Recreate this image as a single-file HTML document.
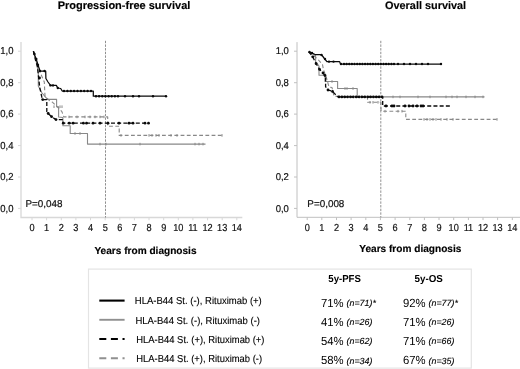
<!DOCTYPE html>
<html><head><meta charset="utf-8"><title>Survival</title>
<style>
html,body{margin:0;padding:0;background:#fff;}
body{width:520px;height:369px;overflow:hidden;}
svg{display:block;filter:blur(0.35px);}
text{font-family:"Liberation Sans",sans-serif;fill:#111;text-rendering:geometricPrecision;}
.t{font-size:10px;stroke:#111;stroke-width:0.2px;}
.b{font-size:10.1px;font-weight:bold;fill:#000;stroke:#000;stroke-width:0.15px;}
.l{font-size:10.1px;fill:#000;stroke:#000;stroke-width:0.12px;}
.p{font-size:11.8px;fill:#000;}
.n{font-size:8.9px;font-style:italic;fill:#000;stroke:#000;stroke-width:0.12px;}
.h{font-size:10.2px;font-weight:bold;fill:#000;}
</style></head>
<body>
<svg width="520" height="369" viewBox="0 0 520 369">
<rect width="520" height="369" fill="#fff"/>
<path d="M21.0,42.1 V217.5 H242.3" fill="none" stroke="#d8d8d8" stroke-width="1.3"/>
<path d="M18.0,51.2 H21.0" stroke="#d8d8d8" stroke-width="1"/>
<text x="0.3" y="54.4" class="t" style="font-size:10.1px" textLength="13.2" lengthAdjust="spacingAndGlyphs">1,0</text>
<path d="M18.0,82.7 H21.0" stroke="#d8d8d8" stroke-width="1"/>
<text x="0.3" y="85.9" class="t" style="font-size:10.1px" textLength="13.2" lengthAdjust="spacingAndGlyphs">0,8</text>
<path d="M18.0,114.1 H21.0" stroke="#d8d8d8" stroke-width="1"/>
<text x="0.3" y="117.3" class="t" style="font-size:10.1px" textLength="13.2" lengthAdjust="spacingAndGlyphs">0,6</text>
<path d="M18.0,145.6 H21.0" stroke="#d8d8d8" stroke-width="1"/>
<text x="0.3" y="148.8" class="t" style="font-size:10.1px" textLength="13.2" lengthAdjust="spacingAndGlyphs">0,4</text>
<path d="M18.0,177.0 H21.0" stroke="#d8d8d8" stroke-width="1"/>
<text x="0.3" y="180.2" class="t" style="font-size:10.1px" textLength="13.2" lengthAdjust="spacingAndGlyphs">0,2</text>
<path d="M18.0,208.4 H21.0" stroke="#d8d8d8" stroke-width="1"/>
<text x="0.3" y="211.6" class="t" style="font-size:10.1px" textLength="13.2" lengthAdjust="spacingAndGlyphs">0,0</text>
<path d="M32.0,217.5 V220.3" stroke="#d8d8d8" stroke-width="1"/>
<text transform="translate(32.0,230.8) scale(0.9,1)" text-anchor="middle" class="t" style="font-size:10.2px">0</text>
<path d="M46.6,217.5 V220.3" stroke="#d8d8d8" stroke-width="1"/>
<text transform="translate(46.6,230.8) scale(0.9,1)" text-anchor="middle" class="t" style="font-size:10.2px">1</text>
<path d="M61.3,217.5 V220.3" stroke="#d8d8d8" stroke-width="1"/>
<text transform="translate(61.3,230.8) scale(0.9,1)" text-anchor="middle" class="t" style="font-size:10.2px">2</text>
<path d="M75.9,217.5 V220.3" stroke="#d8d8d8" stroke-width="1"/>
<text transform="translate(75.9,230.8) scale(0.9,1)" text-anchor="middle" class="t" style="font-size:10.2px">3</text>
<path d="M90.5,217.5 V220.3" stroke="#d8d8d8" stroke-width="1"/>
<text transform="translate(90.5,230.8) scale(0.9,1)" text-anchor="middle" class="t" style="font-size:10.2px">4</text>
<path d="M105.2,217.5 V220.3" stroke="#d8d8d8" stroke-width="1"/>
<text transform="translate(105.2,230.8) scale(0.9,1)" text-anchor="middle" class="t" style="font-size:10.2px">5</text>
<path d="M119.8,217.5 V220.3" stroke="#d8d8d8" stroke-width="1"/>
<text transform="translate(119.8,230.8) scale(0.9,1)" text-anchor="middle" class="t" style="font-size:10.2px">6</text>
<path d="M134.4,217.5 V220.3" stroke="#d8d8d8" stroke-width="1"/>
<text transform="translate(134.4,230.8) scale(0.9,1)" text-anchor="middle" class="t" style="font-size:10.2px">7</text>
<path d="M149.0,217.5 V220.3" stroke="#d8d8d8" stroke-width="1"/>
<text transform="translate(149.0,230.8) scale(0.9,1)" text-anchor="middle" class="t" style="font-size:10.2px">8</text>
<path d="M163.7,217.5 V220.3" stroke="#d8d8d8" stroke-width="1"/>
<text transform="translate(163.7,230.8) scale(0.9,1)" text-anchor="middle" class="t" style="font-size:10.2px">9</text>
<path d="M178.3,217.5 V220.3" stroke="#d8d8d8" stroke-width="1"/>
<text transform="translate(178.3,230.8) scale(0.9,1)" text-anchor="middle" class="t" style="font-size:10.2px">10</text>
<path d="M192.9,217.5 V220.3" stroke="#d8d8d8" stroke-width="1"/>
<text transform="translate(192.9,230.8) scale(0.9,1)" text-anchor="middle" class="t" style="font-size:10.2px">11</text>
<path d="M207.6,217.5 V220.3" stroke="#d8d8d8" stroke-width="1"/>
<text transform="translate(207.6,230.8) scale(0.9,1)" text-anchor="middle" class="t" style="font-size:10.2px">12</text>
<path d="M222.2,217.5 V220.3" stroke="#d8d8d8" stroke-width="1"/>
<text transform="translate(222.2,230.8) scale(0.9,1)" text-anchor="middle" class="t" style="font-size:10.2px">13</text>
<path d="M236.8,217.5 V220.3" stroke="#d8d8d8" stroke-width="1"/>
<text transform="translate(236.8,230.8) scale(0.9,1)" text-anchor="middle" class="t" style="font-size:10.2px">14</text>
<path d="M105.5,40.8 V217.5" stroke="#7c7c7c" stroke-width="0.85" stroke-dasharray="2.4,1.25"/>
<path d="M33.4,51.2 L36.0,60.0 L38.3,72.0 L38.3,86.0 L42.0,93.0 L47.5,99.4 L56.6,99.4 L56.6,106.7 L58.6,106.7 L58.6,117.0 L62.9,117.5 L62.9,125.7 L70.2,125.7 L70.2,133.5 L87.5,133.5 L87.5,144.1 L205.5,144.1" fill="none" stroke="#888888" stroke-width="1.1" stroke-linejoin="round"/><path d="M54.0,105.4 v2.6" stroke="#888888" stroke-width="1"/><path d="M60.0,105.4 v2.6" stroke="#888888" stroke-width="1"/><path d="M62.0,105.4 v2.6" stroke="#888888" stroke-width="1"/><path d="M75.0,132.2 v2.6" stroke="#888888" stroke-width="1"/><path d="M80.0,132.2 v2.6" stroke="#888888" stroke-width="1"/><path d="M100.0,142.8 v2.6" stroke="#888888" stroke-width="1"/><path d="M106.0,142.8 v2.6" stroke="#888888" stroke-width="1"/><path d="M140.0,142.8 v2.6" stroke="#888888" stroke-width="1"/><path d="M195.0,142.8 v2.6" stroke="#888888" stroke-width="1"/><path d="M199.0,142.8 v2.6" stroke="#888888" stroke-width="1"/><path d="M203.0,142.8 v2.6" stroke="#888888" stroke-width="1"/>
<path d="M33.4,51.2 L37.0,62.0 L40.0,72.0 L44.3,82.0 L45.0,96.0 L49.7,100.8 L52.6,102.3 L57.0,106.5 L61.9,111.6 L63.8,116.9 L107.7,116.9 L107.7,126.3 L119.2,126.3 L119.2,135.4 L223.5,135.4" fill="none" stroke="#888888" stroke-width="1.1" stroke-linejoin="round" stroke-dasharray="3.8,2.4"/><path d="M69.0,115.6 v2.6" stroke="#888888" stroke-width="1"/><path d="M77.0,115.6 v2.6" stroke="#888888" stroke-width="1"/><path d="M85.0,115.6 v2.6" stroke="#888888" stroke-width="1"/><path d="M90.0,115.6 v2.6" stroke="#888888" stroke-width="1"/><path d="M95.0,115.6 v2.6" stroke="#888888" stroke-width="1"/><path d="M100.0,115.6 v2.6" stroke="#888888" stroke-width="1"/><path d="M104.0,115.6 v2.6" stroke="#888888" stroke-width="1"/><path d="M121.0,134.1 v2.6" stroke="#888888" stroke-width="1"/><path d="M149.0,134.1 v2.6" stroke="#888888" stroke-width="1"/><path d="M152.0,134.1 v2.6" stroke="#888888" stroke-width="1"/><path d="M156.0,134.1 v2.6" stroke="#888888" stroke-width="1"/><path d="M159.0,134.1 v2.6" stroke="#888888" stroke-width="1"/><path d="M171.0,134.1 v2.6" stroke="#888888" stroke-width="1"/><path d="M177.0,134.1 v2.6" stroke="#888888" stroke-width="1"/><path d="M222.0,134.1 v2.6" stroke="#888888" stroke-width="1"/>
<path d="M33.4,51.2 L35.5,60.0 L37.3,66.0 L38.3,74.6 L39.7,87.3 L41.7,96.5 L42.7,99.6 L46.8,99.6 L46.8,111.6 L48.2,113.5 L51.6,116.7 L56.0,119.6 L62.9,119.6 L62.9,123.2 L148.8,123.2" fill="none" stroke="#0a0a0a" stroke-width="1.3" stroke-linejoin="round" stroke-dasharray="4,2.2"/><circle cx="39.5" cy="78.0" r="1.4" fill="#0a0a0a"/><circle cx="42.7" cy="99.6" r="1.4" fill="#0a0a0a"/><circle cx="48.2" cy="113.5" r="1.4" fill="#0a0a0a"/><circle cx="51.6" cy="116.7" r="1.4" fill="#0a0a0a"/><circle cx="56.0" cy="119.6" r="1.4" fill="#0a0a0a"/><circle cx="63.3" cy="123.2" r="1.4" fill="#0a0a0a"/><circle cx="69.2" cy="123.2" r="1.4" fill="#0a0a0a"/><circle cx="73.1" cy="123.2" r="1.4" fill="#0a0a0a"/><circle cx="83.4" cy="123.2" r="1.4" fill="#0a0a0a"/><circle cx="86.5" cy="123.2" r="1.4" fill="#0a0a0a"/><circle cx="93.0" cy="123.2" r="1.4" fill="#0a0a0a"/><circle cx="100.0" cy="123.2" r="1.4" fill="#0a0a0a"/><circle cx="108.0" cy="123.2" r="1.4" fill="#0a0a0a"/><circle cx="119.0" cy="123.2" r="1.4" fill="#0a0a0a"/><circle cx="129.0" cy="123.2" r="1.4" fill="#0a0a0a"/><circle cx="133.0" cy="123.2" r="1.4" fill="#0a0a0a"/><circle cx="145.0" cy="123.2" r="1.4" fill="#0a0a0a"/><circle cx="148.5" cy="123.2" r="1.4" fill="#0a0a0a"/>
<path d="M33.4,51.2 L35.0,56.0 L36.5,60.0 L38.0,65.0 L40.0,71.0 L45.7,71.0 L45.9,78.5 L48.0,82.0 L50.5,85.4 L56.3,85.4 L57.8,88.0 L60.7,88.5 L62.2,91.0 L93.3,91.0 L93.3,96.2 L166.0,96.2" fill="none" stroke="#0a0a0a" stroke-width="1.25" stroke-linejoin="round"/><circle cx="34.5" cy="54.0" r="1.2" fill="#0a0a0a"/><circle cx="36.3" cy="59.0" r="1.2" fill="#0a0a0a"/><circle cx="38.0" cy="65.0" r="1.2" fill="#0a0a0a"/><circle cx="40.0" cy="71.0" r="1.2" fill="#0a0a0a"/><circle cx="44.5" cy="71.0" r="1.2" fill="#0a0a0a"/><circle cx="50.5" cy="85.4" r="1.2" fill="#0a0a0a"/><circle cx="53.0" cy="85.4" r="1.2" fill="#0a0a0a"/><circle cx="57.8" cy="88.0" r="1.2" fill="#0a0a0a"/><circle cx="64.0" cy="91.0" r="1.2" fill="#0a0a0a"/><circle cx="67.4" cy="91.0" r="1.2" fill="#0a0a0a"/><circle cx="70.8" cy="91.0" r="1.2" fill="#0a0a0a"/><circle cx="74.1" cy="91.0" r="1.2" fill="#0a0a0a"/><circle cx="77.5" cy="91.0" r="1.2" fill="#0a0a0a"/><circle cx="80.9" cy="91.0" r="1.2" fill="#0a0a0a"/><circle cx="84.2" cy="91.0" r="1.2" fill="#0a0a0a"/><circle cx="87.6" cy="91.0" r="1.2" fill="#0a0a0a"/><circle cx="91.0" cy="91.0" r="1.2" fill="#0a0a0a"/><circle cx="96.0" cy="96.2" r="1.2" fill="#0a0a0a"/><circle cx="99.1" cy="96.2" r="1.2" fill="#0a0a0a"/><circle cx="102.3" cy="96.2" r="1.2" fill="#0a0a0a"/><circle cx="105.4" cy="96.2" r="1.2" fill="#0a0a0a"/><circle cx="108.6" cy="96.2" r="1.2" fill="#0a0a0a"/><circle cx="111.7" cy="96.2" r="1.2" fill="#0a0a0a"/><circle cx="114.9" cy="96.2" r="1.2" fill="#0a0a0a"/><circle cx="118.0" cy="96.2" r="1.2" fill="#0a0a0a"/><circle cx="125.0" cy="96.2" r="1.2" fill="#0a0a0a"/><circle cx="133.0" cy="96.2" r="1.2" fill="#0a0a0a"/><circle cx="139.0" cy="96.2" r="1.2" fill="#0a0a0a"/><circle cx="153.0" cy="96.2" r="1.2" fill="#0a0a0a"/><circle cx="166.0" cy="96.2" r="1.2" fill="#0a0a0a"/>
<text x="25.5" y="207.3" class="t" style="font-size:9.9px">P=0,048</text>
<text x="124" y="8.8" text-anchor="middle" class="b" style="font-size:11px">Progression-free survival</text>
<text x="145.5" y="254.0" text-anchor="middle" class="b">Years from diagnosis</text>
<path d="M297.0,42.1 V217.3 H520.3" fill="none" stroke="#c0c0c0" stroke-width="1.0"/>
<path d="M294.0,51.2 H297.0" stroke="#c0c0c0" stroke-width="1"/>
<text x="275.7" y="54.4" class="t" style="font-size:9.9px" textLength="13.2" lengthAdjust="spacingAndGlyphs">1,0</text>
<path d="M294.0,82.7 H297.0" stroke="#c0c0c0" stroke-width="1"/>
<text x="275.7" y="85.9" class="t" style="font-size:9.9px" textLength="13.2" lengthAdjust="spacingAndGlyphs">0,8</text>
<path d="M294.0,114.1 H297.0" stroke="#c0c0c0" stroke-width="1"/>
<text x="275.7" y="117.3" class="t" style="font-size:9.9px" textLength="13.2" lengthAdjust="spacingAndGlyphs">0,6</text>
<path d="M294.0,145.6 H297.0" stroke="#c0c0c0" stroke-width="1"/>
<text x="275.7" y="148.8" class="t" style="font-size:9.9px" textLength="13.2" lengthAdjust="spacingAndGlyphs">0,4</text>
<path d="M294.0,177.0 H297.0" stroke="#c0c0c0" stroke-width="1"/>
<text x="275.7" y="180.2" class="t" style="font-size:9.9px" textLength="13.2" lengthAdjust="spacingAndGlyphs">0,2</text>
<path d="M294.0,208.4 H297.0" stroke="#c0c0c0" stroke-width="1"/>
<text x="275.7" y="211.6" class="t" style="font-size:9.9px" textLength="13.2" lengthAdjust="spacingAndGlyphs">0,0</text>
<path d="M307.2,217.3 V220.10000000000002" stroke="#c0c0c0" stroke-width="1"/>
<text transform="translate(307.2,230.6) scale(0.9,1)" text-anchor="middle" class="t" style="font-size:10.2px">0</text>
<path d="M321.8,217.3 V220.10000000000002" stroke="#c0c0c0" stroke-width="1"/>
<text transform="translate(321.8,230.6) scale(0.9,1)" text-anchor="middle" class="t" style="font-size:10.2px">1</text>
<path d="M336.5,217.3 V220.10000000000002" stroke="#c0c0c0" stroke-width="1"/>
<text transform="translate(336.5,230.6) scale(0.9,1)" text-anchor="middle" class="t" style="font-size:10.2px">2</text>
<path d="M351.1,217.3 V220.10000000000002" stroke="#c0c0c0" stroke-width="1"/>
<text transform="translate(351.1,230.6) scale(0.9,1)" text-anchor="middle" class="t" style="font-size:10.2px">3</text>
<path d="M365.8,217.3 V220.10000000000002" stroke="#c0c0c0" stroke-width="1"/>
<text transform="translate(365.8,230.6) scale(0.9,1)" text-anchor="middle" class="t" style="font-size:10.2px">4</text>
<path d="M380.4,217.3 V220.10000000000002" stroke="#c0c0c0" stroke-width="1"/>
<text transform="translate(380.4,230.6) scale(0.9,1)" text-anchor="middle" class="t" style="font-size:10.2px">5</text>
<path d="M395.1,217.3 V220.10000000000002" stroke="#c0c0c0" stroke-width="1"/>
<text transform="translate(395.1,230.6) scale(0.9,1)" text-anchor="middle" class="t" style="font-size:10.2px">6</text>
<path d="M409.8,217.3 V220.10000000000002" stroke="#c0c0c0" stroke-width="1"/>
<text transform="translate(409.8,230.6) scale(0.9,1)" text-anchor="middle" class="t" style="font-size:10.2px">7</text>
<path d="M424.4,217.3 V220.10000000000002" stroke="#c0c0c0" stroke-width="1"/>
<text transform="translate(424.4,230.6) scale(0.9,1)" text-anchor="middle" class="t" style="font-size:10.2px">8</text>
<path d="M439.0,217.3 V220.10000000000002" stroke="#c0c0c0" stroke-width="1"/>
<text transform="translate(439.0,230.6) scale(0.9,1)" text-anchor="middle" class="t" style="font-size:10.2px">9</text>
<path d="M453.7,217.3 V220.10000000000002" stroke="#c0c0c0" stroke-width="1"/>
<text transform="translate(453.7,230.6) scale(0.9,1)" text-anchor="middle" class="t" style="font-size:10.2px">10</text>
<path d="M468.4,217.3 V220.10000000000002" stroke="#c0c0c0" stroke-width="1"/>
<text transform="translate(468.4,230.6) scale(0.9,1)" text-anchor="middle" class="t" style="font-size:10.2px">11</text>
<path d="M483.0,217.3 V220.10000000000002" stroke="#c0c0c0" stroke-width="1"/>
<text transform="translate(483.0,230.6) scale(0.9,1)" text-anchor="middle" class="t" style="font-size:10.2px">12</text>
<path d="M497.6,217.3 V220.10000000000002" stroke="#c0c0c0" stroke-width="1"/>
<text transform="translate(497.6,230.6) scale(0.9,1)" text-anchor="middle" class="t" style="font-size:10.2px">13</text>
<path d="M512.3,217.3 V220.10000000000002" stroke="#c0c0c0" stroke-width="1"/>
<text transform="translate(512.3,230.6) scale(0.9,1)" text-anchor="middle" class="t" style="font-size:10.2px">14</text>
<path d="M380.8,40.8 V217.3" stroke="#7c7c7c" stroke-width="0.85" stroke-dasharray="2.4,1.25"/>
<path d="M308.8,51.8 L312.0,53.5 L315.6,55.7 L315.6,61.6 L319.0,66.0 L319.0,75.3 L325.0,75.3 L325.0,81.5 L337.6,81.5 L337.6,88.5 L357.2,88.5 L357.2,96.9 L484.5,96.9" fill="none" stroke="#888888" stroke-width="1.1" stroke-linejoin="round"/><path d="M332.0,80.2 v2.6" stroke="#888888" stroke-width="1"/><path d="M345.0,87.2 v2.6" stroke="#888888" stroke-width="1"/><path d="M347.0,87.2 v2.6" stroke="#888888" stroke-width="1"/><path d="M353.0,87.2 v2.6" stroke="#888888" stroke-width="1"/><path d="M393.0,95.6 v2.6" stroke="#888888" stroke-width="1"/><path d="M400.0,95.6 v2.6" stroke="#888888" stroke-width="1"/><path d="M418.0,95.6 v2.6" stroke="#888888" stroke-width="1"/><path d="M430.0,95.6 v2.6" stroke="#888888" stroke-width="1"/><path d="M446.0,95.6 v2.6" stroke="#888888" stroke-width="1"/><path d="M452.0,95.6 v2.6" stroke="#888888" stroke-width="1"/><path d="M457.0,95.6 v2.6" stroke="#888888" stroke-width="1"/><path d="M466.0,95.6 v2.6" stroke="#888888" stroke-width="1"/><path d="M475.0,95.6 v2.6" stroke="#888888" stroke-width="1"/><path d="M483.0,95.6 v2.6" stroke="#888888" stroke-width="1"/>
<path d="M308.8,51.8 L314.0,56.0 L318.5,60.0 L322.5,64.5 L323.4,69.4 L326.5,78.0 L329.0,87.0 L332.0,87.5 L334.0,96.3 L367.5,96.9 L367.5,102.3 L381.0,102.3 L381.0,111.2 L405.8,111.2 L405.8,119.4 L499.0,119.4" fill="none" stroke="#888888" stroke-width="1.1" stroke-linejoin="round" stroke-dasharray="3.8,2.4"/><path d="M370.0,101.0 v2.6" stroke="#888888" stroke-width="1"/><path d="M373.0,101.0 v2.6" stroke="#888888" stroke-width="1"/><path d="M378.0,101.0 v2.6" stroke="#888888" stroke-width="1"/><path d="M385.0,109.9 v2.6" stroke="#888888" stroke-width="1"/><path d="M398.0,109.9 v2.6" stroke="#888888" stroke-width="1"/><path d="M402.0,109.9 v2.6" stroke="#888888" stroke-width="1"/><path d="M424.0,118.1 v2.6" stroke="#888888" stroke-width="1"/><path d="M427.0,118.1 v2.6" stroke="#888888" stroke-width="1"/><path d="M430.0,118.1 v2.6" stroke="#888888" stroke-width="1"/><path d="M433.0,118.1 v2.6" stroke="#888888" stroke-width="1"/><path d="M436.0,118.1 v2.6" stroke="#888888" stroke-width="1"/><path d="M441.0,118.1 v2.6" stroke="#888888" stroke-width="1"/><path d="M447.0,118.1 v2.6" stroke="#888888" stroke-width="1"/><path d="M453.0,118.1 v2.6" stroke="#888888" stroke-width="1"/><path d="M497.0,118.1 v2.6" stroke="#888888" stroke-width="1"/>
<path d="M308.8,51.8 L312.7,56.8 L316.1,63.7 L319.6,69.4 L323.0,72.9 L325.6,76.8 L325.6,86.6 L328.0,90.0 L332.5,91.4 L335.9,94.9 L338.3,96.9 L382.7,96.9 L382.7,106.0 L450.3,106.0" fill="none" stroke="#0a0a0a" stroke-width="1.3" stroke-linejoin="round" stroke-dasharray="4,2.2"/><circle cx="312.7" cy="56.8" r="1.4" fill="#0a0a0a"/><circle cx="316.1" cy="63.7" r="1.4" fill="#0a0a0a"/><circle cx="319.6" cy="69.4" r="1.4" fill="#0a0a0a"/><circle cx="323.0" cy="72.9" r="1.4" fill="#0a0a0a"/><circle cx="325.0" cy="75.5" r="1.4" fill="#0a0a0a"/><circle cx="328.0" cy="90.0" r="1.4" fill="#0a0a0a"/><circle cx="332.5" cy="91.4" r="1.4" fill="#0a0a0a"/><circle cx="339.0" cy="96.9" r="1.4" fill="#0a0a0a"/><circle cx="341.9" cy="96.9" r="1.4" fill="#0a0a0a"/><circle cx="344.7" cy="96.9" r="1.4" fill="#0a0a0a"/><circle cx="347.6" cy="96.9" r="1.4" fill="#0a0a0a"/><circle cx="350.5" cy="96.9" r="1.4" fill="#0a0a0a"/><circle cx="353.3" cy="96.9" r="1.4" fill="#0a0a0a"/><circle cx="356.2" cy="96.9" r="1.4" fill="#0a0a0a"/><circle cx="359.1" cy="96.9" r="1.4" fill="#0a0a0a"/><circle cx="361.9" cy="96.9" r="1.4" fill="#0a0a0a"/><circle cx="364.8" cy="96.9" r="1.4" fill="#0a0a0a"/><circle cx="367.7" cy="96.9" r="1.4" fill="#0a0a0a"/><circle cx="370.5" cy="96.9" r="1.4" fill="#0a0a0a"/><circle cx="373.4" cy="96.9" r="1.4" fill="#0a0a0a"/><circle cx="376.3" cy="96.9" r="1.4" fill="#0a0a0a"/><circle cx="379.1" cy="96.9" r="1.4" fill="#0a0a0a"/><circle cx="382.0" cy="96.9" r="1.4" fill="#0a0a0a"/><circle cx="386.0" cy="106.0" r="1.4" fill="#0a0a0a"/><circle cx="392.0" cy="106.0" r="1.4" fill="#0a0a0a"/><circle cx="394.0" cy="106.0" r="1.4" fill="#0a0a0a"/><circle cx="405.0" cy="106.0" r="1.4" fill="#0a0a0a"/><circle cx="409.0" cy="106.0" r="1.4" fill="#0a0a0a"/><circle cx="413.0" cy="106.0" r="1.4" fill="#0a0a0a"/><circle cx="417.0" cy="106.0" r="1.4" fill="#0a0a0a"/><circle cx="421.0" cy="106.0" r="1.4" fill="#0a0a0a"/><circle cx="423.0" cy="106.0" r="1.4" fill="#0a0a0a"/>
<path d="M308.8,51.8 L312.0,53.0 L315.6,54.7 L321.5,54.7 L324.0,58.0 L326.9,61.6 L339.6,61.6 L340.5,64.0 L441.0,64.0" fill="none" stroke="#0a0a0a" stroke-width="1.25" stroke-linejoin="round"/><circle cx="309.5" cy="52.0" r="1.2" fill="#0a0a0a"/><circle cx="312.0" cy="53.0" r="1.2" fill="#0a0a0a"/><circle cx="321.5" cy="55.0" r="1.2" fill="#0a0a0a"/><circle cx="325.0" cy="59.0" r="1.2" fill="#0a0a0a"/><circle cx="329.0" cy="61.6" r="1.2" fill="#0a0a0a"/><circle cx="333.5" cy="61.6" r="1.2" fill="#0a0a0a"/><circle cx="341.0" cy="64.0" r="1.2" fill="#0a0a0a"/><circle cx="344.0" cy="64.0" r="1.2" fill="#0a0a0a"/><circle cx="346.6" cy="64.0" r="1.2" fill="#0a0a0a"/><circle cx="349.3" cy="64.0" r="1.2" fill="#0a0a0a"/><circle cx="351.9" cy="64.0" r="1.2" fill="#0a0a0a"/><circle cx="354.5" cy="64.0" r="1.2" fill="#0a0a0a"/><circle cx="357.2" cy="64.0" r="1.2" fill="#0a0a0a"/><circle cx="359.8" cy="64.0" r="1.2" fill="#0a0a0a"/><circle cx="362.4" cy="64.0" r="1.2" fill="#0a0a0a"/><circle cx="365.1" cy="64.0" r="1.2" fill="#0a0a0a"/><circle cx="367.7" cy="64.0" r="1.2" fill="#0a0a0a"/><circle cx="370.3" cy="64.0" r="1.2" fill="#0a0a0a"/><circle cx="372.9" cy="64.0" r="1.2" fill="#0a0a0a"/><circle cx="375.6" cy="64.0" r="1.2" fill="#0a0a0a"/><circle cx="378.2" cy="64.0" r="1.2" fill="#0a0a0a"/><circle cx="380.8" cy="64.0" r="1.2" fill="#0a0a0a"/><circle cx="383.5" cy="64.0" r="1.2" fill="#0a0a0a"/><circle cx="386.1" cy="64.0" r="1.2" fill="#0a0a0a"/><circle cx="388.7" cy="64.0" r="1.2" fill="#0a0a0a"/><circle cx="391.4" cy="64.0" r="1.2" fill="#0a0a0a"/><circle cx="394.0" cy="64.0" r="1.2" fill="#0a0a0a"/><circle cx="398.0" cy="64.0" r="1.2" fill="#0a0a0a"/><circle cx="404.0" cy="64.0" r="1.2" fill="#0a0a0a"/><circle cx="410.0" cy="64.0" r="1.2" fill="#0a0a0a"/><circle cx="416.0" cy="64.0" r="1.2" fill="#0a0a0a"/><circle cx="422.0" cy="64.0" r="1.2" fill="#0a0a0a"/><circle cx="428.0" cy="64.0" r="1.2" fill="#0a0a0a"/><circle cx="441.0" cy="64.0" r="1.2" fill="#0a0a0a"/>
<text x="307.3" y="207.3" class="t" style="font-size:9.9px">P=0,008</text>
<text x="425.6" y="8.8" text-anchor="middle" class="b" style="font-size:10.9px">Overall survival</text>
<text x="410.3" y="251.7" text-anchor="middle" class="b">Years from diagnosis</text>
<rect x="88.5" y="269.1" width="382.8" height="99" fill="#fff" stroke="#e4e4e4" stroke-width="1.2"/>
<path d="M99.3,300.6 H124.6" stroke="#000" stroke-width="2.1"/>
<text x="134.8" y="304.3" class="l" textLength="127" lengthAdjust="spacingAndGlyphs">HLA-B44 St. (-), Rituximab (+)</text>
<text x="321" y="306.7" class="p" textLength="22.6" lengthAdjust="spacingAndGlyphs">71%</text>
<text x="346.5" y="305.9" class="n">(n=71)*</text>
<text x="403" y="306.7" class="p" textLength="22.6" lengthAdjust="spacingAndGlyphs">92%</text>
<text x="428.5" y="305.9" class="n">(n=77)*</text>
<path d="M99.3,319.8 H124.6" stroke="#909090" stroke-width="1.9"/>
<text x="135.4" y="323.5" class="l" textLength="124.6" lengthAdjust="spacingAndGlyphs">HLA-B44 St. (-), Rituximab (-)</text>
<text x="321" y="325.9" class="p" textLength="22.6" lengthAdjust="spacingAndGlyphs">41%</text>
<text x="346.5" y="325.1" class="n">(n=26)</text>
<text x="403" y="325.9" class="p" textLength="22.6" lengthAdjust="spacingAndGlyphs">71%</text>
<text x="428.5" y="325.1" class="n">(n=26)</text>
<path d="M99.3,339 H124.6" stroke="#000" stroke-width="2.1" stroke-dasharray="7,4.6"/>
<text x="136.3" y="342.7" class="l" textLength="128.2" lengthAdjust="spacingAndGlyphs">HLA-B44 St. (+), Rituximab (+)</text>
<text x="321" y="345.1" class="p" textLength="22.6" lengthAdjust="spacingAndGlyphs">54%</text>
<text x="346.5" y="344.3" class="n">(n=62)</text>
<text x="403" y="345.1" class="p" textLength="22.6" lengthAdjust="spacingAndGlyphs">71%</text>
<text x="428.5" y="344.3" class="n">(n=66)</text>
<path d="M99.3,358.2 H124.6" stroke="#909090" stroke-width="1.9" stroke-dasharray="7,4.6"/>
<text x="136.3" y="361.9" class="l" textLength="125.8" lengthAdjust="spacingAndGlyphs">HLA-B44 St. (+), Rituximab (-)</text>
<text x="321" y="364.3" class="p" textLength="22.6" lengthAdjust="spacingAndGlyphs">58%</text>
<text x="346.5" y="363.5" class="n">(n=34)</text>
<text x="403" y="364.3" class="p" textLength="22.6" lengthAdjust="spacingAndGlyphs">67%</text>
<text x="428.5" y="363.5" class="n">(n=35)</text>
<text x="328.3" y="282.4" class="h" textLength="32.6" lengthAdjust="spacingAndGlyphs">5y-PFS</text>
<text x="414.5" y="282.4" class="h" textLength="28.3" lengthAdjust="spacingAndGlyphs">5y-OS</text>
</svg>
</body></html>
